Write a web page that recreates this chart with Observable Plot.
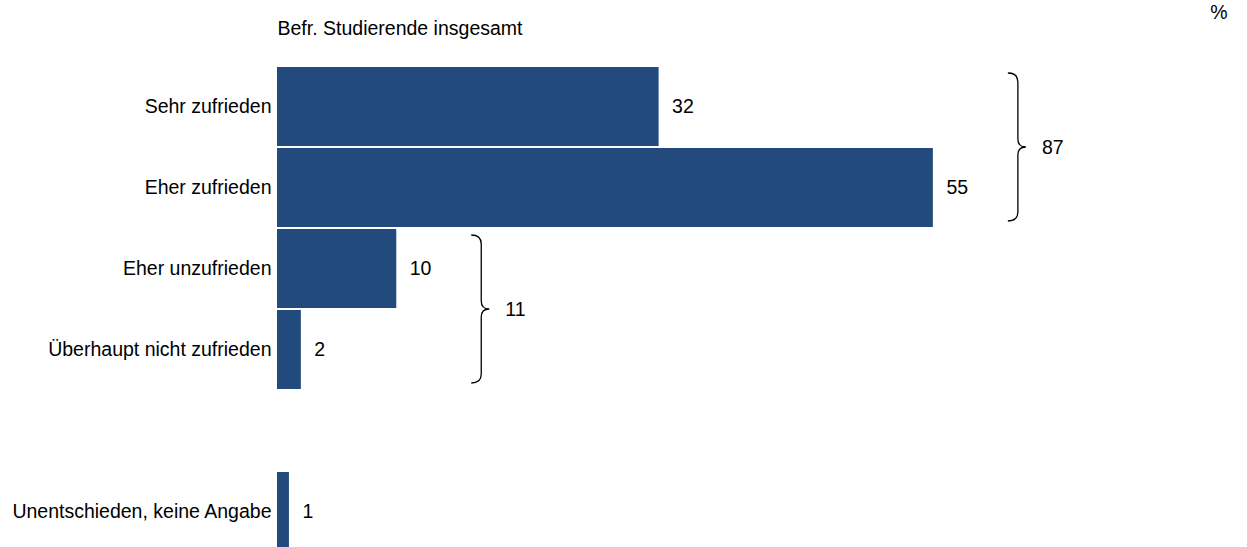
<!DOCTYPE html>
<html>
<head>
<meta charset="utf-8">
<script src="https://cdn.jsdelivr.net/npm/d3@7"></script>
<script src="https://cdn.jsdelivr.net/npm/@observablehq/plot@0.6"></script>
<style>
  html, body { margin: 0; padding: 0; background: #fff; overflow: hidden; }
  svg { display: block; }
</style>
</head>
<body>
<div id="chart"></div>
<script>
// ---- data ----
const categories = ["Sehr zufrieden", "Eher zufrieden", "Eher unzufrieden", "Überhaupt nicht zufrieden", "Unentschieden, keine Angabe"];
const values = [32, 55, 10, 2, 1];
const groupA = ["Sehr zufrieden", "Eher zufrieden"];
const groupATotal = 87;
const groupB = ["Eher unzufrieden", "Überhaupt nicht zufrieden"];
const groupBTotal = 11;
const titleText = "Befr. Studierende insgesamt";
const unitText = "%";

// ---- layout / style ----
const spacer = " ";
const yDomain = [...categories.slice(0, 4), spacer, categories[4]];
const barColor = "#224a7c";
const font = "'Liberation Sans', Arial, sans-serif";
const fs = 19.5;

const rows = categories.map((c, i) => ({category: c, value: values[i]}));

const plot = Plot.plot({
  width: 1247,
  height: 554,
  marginLeft: 277,
  marginRight: 16,
  marginTop: 65,
  marginBottom: 0,
  style: {fontFamily: font, fontSize: fs + "px", color: "#000", background: "#fff"},
  x: {domain: [0, 80], axis: null},
  y: {domain: yDomain, paddingInner: 0.02, paddingOuter: 0, axis: null},
  marks: [
    Plot.barX(rows, {x: "value", y: "category", fill: barColor}),
    Plot.text(rows, {x: "value", y: "category", text: d => String(d.value), dx: 13, textAnchor: "start", fontSize: fs, fill: "#000"}),
    Plot.axisY({tickSize: 0, tickPadding: 6, fontSize: fs, label: null, tickFormat: d => d === spacer ? "" : d}),
    Plot.text([titleText], {frameAnchor: "top-left", dy: -37, textAnchor: "start", lineAnchor: "middle", fontSize: fs, fill: "#000"}),
    Plot.text([unitText], {frameAnchor: "top-right", dx: -4, dy: -53, textAnchor: "end", lineAnchor: "middle", fontSize: fs, fill: "#000"})
  ]
});

document.getElementById("chart").appendChild(plot);

// ---- braces drawn with the plot's own scales ----
const xs = plot.scale("x");
const ys = plot.scale("y");
const svg = d3.select(plot);

function brace(group, total) {
  const maxVal = d3.max(group, c => values[categories.indexOf(c)]);
  const x0 = xs.apply(maxVal) + 75;
  const top = ys.apply(group[0]) + 6;
  const bottom = ys.apply(group[group.length - 1]) + ys.bandwidth - 6;
  const mid = (top + bottom) / 2;
  const xl = x0 + 10, xt = x0 + 18;
  const p = d3.path();
  p.moveTo(x0, top);
  p.quadraticCurveTo(xl, top, xl, top + 9);
  p.lineTo(xl, mid - 8);
  p.quadraticCurveTo(xl, mid, xt, mid);
  p.quadraticCurveTo(xl, mid, xl, mid + 8);
  p.lineTo(xl, bottom - 9);
  p.quadraticCurveTo(xl, bottom, x0, bottom);
  svg.append("path").attr("d", p.toString()).attr("fill", "none").attr("stroke", "#000").attr("stroke-width", 1.3);
  svg.append("text").attr("x", x0 + 34).attr("y", mid).attr("dy", "0.35em")
    .attr("text-anchor", "start")
    .attr("font-family", font).attr("font-size", fs).attr("fill", "#000").text(String(total));
}
brace(groupA, groupATotal);
brace(groupB, groupBTotal);
</script>
</body>
</html>
